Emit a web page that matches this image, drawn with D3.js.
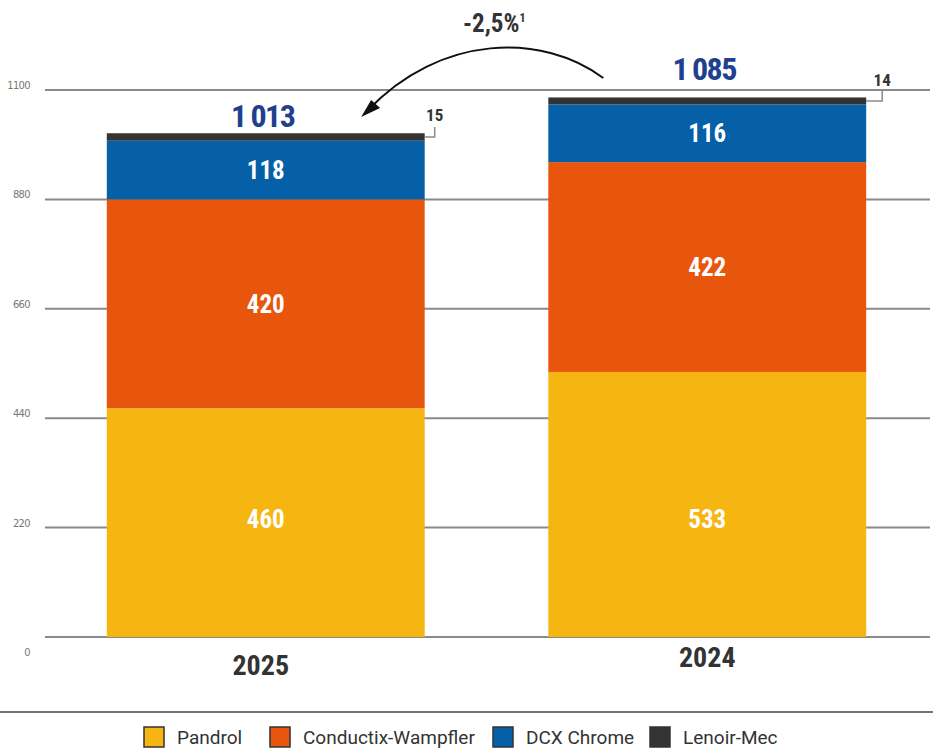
<!DOCTYPE html>
<html>
<head>
<meta charset="utf-8">
<script src="https://cdn.jsdelivr.net/npm/d3@7"></script>
<style>
  body { margin: 0; background: #fff; }
  .cond { font-family: "Liberation Sans Narrow", "Roboto Condensed", "DejaVu Sans Condensed", sans-serif; font-weight: bold; }
</style>
</head>
<body>
<div id="chart"></div>
<script>
const width = 933, height = 755;

const years = ["2025", "2024"];
const series = ["Pandrol", "Conductix-Wampfler", "DCX Chrome", "Lenoir-Mec"];
const colors = ["#f6b612", "#e8560d", "#0560a8", "#333333"];
const values = {
  "Pandrol": [460, 533],
  "Conductix-Wampfler": [420, 422],
  "DCX Chrome": [118, 116],
  "Lenoir-Mec": [15, 14]
};
const totals = [1013, 1085];
const yTicks = [0, 220, 440, 660, 880, 1100];
const change = "-2,5%";

const fmt = d3.formatLocale({ decimal: ",", thousands: "\u2009", grouping: [3], currency: ["", ""] }).format(",d");

const svg = d3.select("#chart")
  .append("svg")
  .attr("width", width)
  .attr("height", height);

const x = d3.scaleBand()
  .domain(years)
  .range([45, 928])
  .paddingInner(0.28)
  .paddingOuter(0.14);

const y = d3.scaleLinear()
  .domain([0, 1100])
  .range([637, 90]);

const color = d3.scaleOrdinal().domain(series).range(colors);

// grid
svg.append("g")
  .selectAll("line")
  .data(yTicks)
  .join("line")
  .attr("x1", 45)
  .attr("x2", 930)
  .attr("y1", d => y(d))
  .attr("y2", d => y(d))
  .attr("stroke", "#8a8a8a")
  .attr("stroke-width", 2);

svg.append("g")
  .selectAll("text")
  .data(yTicks)
  .join("text")
  .attr("x", 30)
  .attr("y", d => d === 0 ? y(d) + 19 : y(d) - 1)
  .attr("text-anchor", "end")
  .attr("font-family", "'Liberation Sans Narrow', 'DejaVu Sans Condensed', sans-serif")
  .attr("font-size", 11)
  .attr("letter-spacing", -0.6)
  .attr("fill", "#777")
  .text(d => d);

// stacked bars
const rows = years.map((yr, i) => {
  const r = { year: yr };
  series.forEach(s => r[s] = values[s][i]);
  return r;
});
const stack = d3.stack().keys(series)(rows);

const layers = svg.append("g")
  .selectAll("g")
  .data(stack)
  .join("g")
  .attr("fill", d => color(d.key));

layers.selectAll("rect")
  .data(d => d)
  .join("rect")
  .attr("x", d => x(d.data.year))
  .attr("width", x.bandwidth())
  .attr("y", d => y(d[1]))
  .attr("height", d => y(d[0]) - y(d[1]));

// segment labels (first three series); bottom labels sit on a common line
stack.slice(0, 3).forEach((layer, li) => {
  svg.append("g")
    .selectAll("text")
    .data(layer)
    .join("text")
    .attr("class", "cond")
    .attr("x", d => x(d.data.year) + x.bandwidth() / 2)
    .attr("y", d => li === 0 ? y(d3.min(values.Pandrol) / 2) - 4 : (y(d[0]) + y(d[1])) / 2)
    .attr("dy", "0.36em")
    .attr("text-anchor", "middle")
    .attr("font-size", 25)
    .attr("fill", "#fff")
    .text(d => d[1] - d[0]);
});

// small top segment callouts
const topLayer = stack[3];
topLayer.forEach((d, i) => {
  const xr = x(d.data.year) + x.bandwidth();
  const ym = (y(d[0]) + y(d[1])) / 2;
  const xe = xr + (i === 0 ? 10 : 16);
  const yt = i === 0 ? ym - 10 : y(1100);
  svg.append("path")
    .attr("d", `M${xr},${ym}H${xe}V${yt}`)
    .attr("fill", "none")
    .attr("stroke", "#8a8a8a")
    .attr("stroke-width", 1.5);
  svg.append("text")
    .attr("class", "cond")
    .attr("x", xe)
    .attr("y", i === 0 ? yt - 6 : yt - 4)
    .attr("text-anchor", "middle")
    .attr("font-size", 17)
    .attr("fill", "#333")
    .text(d[1] - d[0]);
});

// totals
svg.append("g")
  .selectAll("text")
  .data(totals)
  .join("text")
  .attr("class", "cond")
  .attr("x", (d, i) => x(years[i]) + x.bandwidth() / 2 - 3)
  .attr("y", (d, i) => y(d) - (i === 0 ? 6 : 17))
  .attr("text-anchor", "middle")
  .attr("font-size", 32)
  .attr("letter-spacing", -1.5)
  .attr("fill", "#1f3f8f")
  .text(d => fmt(d));

// change arrow
const sx = x("2024") + 55, sy = 78;
const ex = x("2025") + x.bandwidth() * 0.8, ey = 117;
svg.append("path")
  .attr("d", `M${sx},${sy}C${sx - 60},${sy - 45} ${ex + 80},${sy - 45} ${ex + 6},${ey - 6}`)
  .attr("fill", "none")
  .attr("stroke", "#111")
  .attr("stroke-width", 2);
svg.append("path")
  .attr("d", `M${ex},${ey}L${ex + 10},${ey - 17}L${ex + 19},${ey - 9}Z`)
  .attr("fill", "#111");

const ct = svg.append("text")
  .attr("class", "cond")
  .attr("x", 463)
  .attr("y", 32)
  .attr("font-size", 25)
  .attr("fill", "#333");
ct.append("tspan").text(change);
ct.append("tspan").attr("font-size", 12).attr("dy", -10).text("1");

// x labels
svg.append("g")
  .selectAll("text")
  .data(years)
  .join("text")
  .attr("class", "cond")
  .attr("x", (d, i) => x(d) + x.bandwidth() / 2 - (i === 0 ? 5 : 0))
  .attr("y", (d, i) => i === 0 ? 675 : 667)
  .attr("text-anchor", "middle")
  .attr("font-size", 28)
  .attr("fill", "#333")
  .text(d => d);

// legend
svg.append("line")
  .attr("x1", 0).attr("x2", width)
  .attr("y1", 712).attr("y2", 712)
  .attr("stroke", "#444")
  .attr("stroke-width", 1.5);

const legX = [144, 270, 493, 650];
const leg = svg.append("g")
  .selectAll("g")
  .data(series)
  .join("g")
  .attr("transform", (d, i) => `translate(${legX[i]},727)`);

leg.append("rect")
  .attr("width", 20).attr("height", 20)
  .attr("fill", d => color(d))
  .attr("stroke", "#333")
  .attr("stroke-width", 1.5);

leg.append("text")
  .attr("x", 33)
  .attr("y", 17)
  .attr("font-family", "Roboto, sans-serif")
  .attr("font-size", 19)
  .attr("fill", "#333")
  .text(d => d);
</script>
</body>
</html>
